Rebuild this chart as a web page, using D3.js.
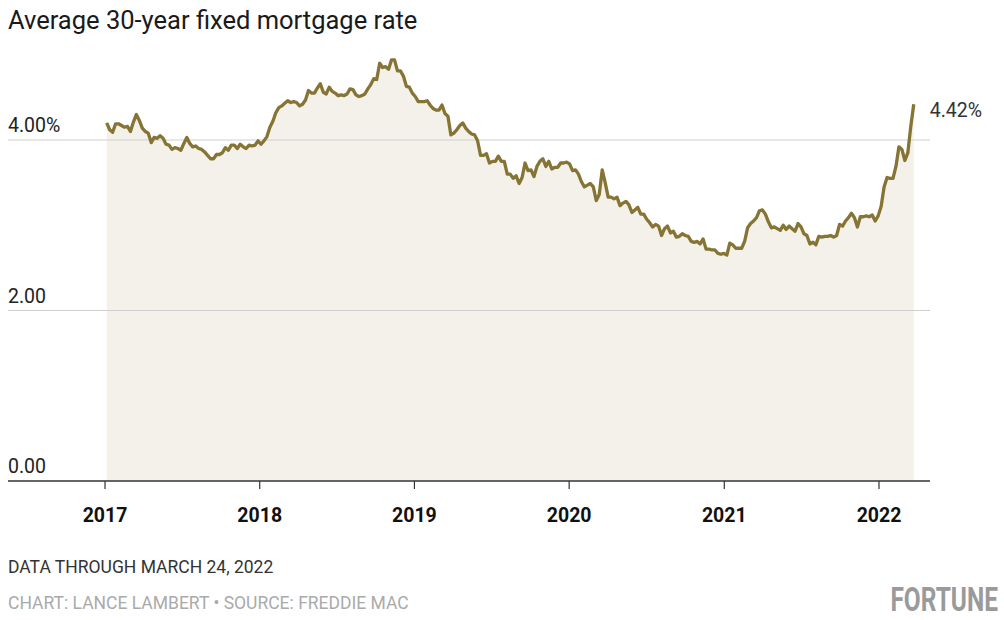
<!DOCTYPE html>
<html>
<head>
<meta charset="utf-8">
<title>Average 30-year fixed mortgage rate</title>
<script src="https://d3js.org/d3.v7.min.js"></script>
<style>
  body { margin: 0; background: #fff; }
  svg { display: block; font-family: Roboto, "Liberation Sans", sans-serif; }
</style>
</head>
<body>
<script>
// weekly Freddie Mac PMMS readings, first week of each year listed first
const startDate = "2017-01-05";
const rates2017 = [4.20,4.12,4.09,4.19, 4.19,4.17,4.15,4.16, 4.10,4.21,4.30,4.23,4.14, 4.10,4.08,3.97,4.03,
  4.02,4.05,4.02,3.95, 3.94,3.89,3.91,3.90,3.88, 3.96,4.03,3.96,3.92, 3.93,3.90,3.89,3.86,3.82,
  3.78,3.78,3.83,3.83, 3.85,3.91,3.88,3.94, 3.94,3.90,3.95,3.92,3.90, 3.94,3.93,3.94,3.99];
const rates2018 = [3.95,3.99,4.04,4.15, 4.22,4.32,4.38,4.40, 4.43,4.46,4.44,4.45,4.44, 4.40,4.42,4.47,4.58,
  4.55,4.55,4.61,4.66,4.56, 4.54,4.62,4.57,4.55, 4.52,4.53,4.52,4.54, 4.60,4.59,4.53,4.51,4.52,
  4.54,4.60,4.65,4.72, 4.71,4.90,4.85,4.86, 4.83,4.94,4.94,4.81,4.81, 4.75,4.63,4.62,4.55];
const rates2019 = [4.51,4.45,4.45,4.45,4.46, 4.41,4.37,4.35,4.35, 4.41,4.31,4.28,4.06, 4.08,4.12,4.17,4.20,
  4.14,4.10,4.07,4.06,3.99, 3.82,3.82,3.84,3.73, 3.75,3.75,3.81,3.75, 3.75,3.60,3.60,3.55,3.58,
  3.49,3.56,3.73,3.64, 3.65,3.57,3.69,3.75,3.78, 3.69,3.75,3.66,3.68, 3.68,3.73,3.73,3.74];
const rates2020 = [3.72,3.64,3.65,3.60,3.51, 3.45,3.47,3.49,3.45, 3.29,3.36,3.65,3.50, 3.33,3.33,3.31,3.33,3.23,
  3.26,3.28,3.24,3.15, 3.18,3.21,3.13,3.13, 3.07,3.03,2.98,3.01,2.99, 2.88,2.96,2.99,2.91,
  2.93,2.86,2.87,2.90, 2.88,2.87,2.81,2.80,2.81, 2.78,2.84,2.72,2.72, 2.71,2.71,2.67,2.66,2.67];
const rates2021 = [2.65,2.79,2.77,2.73, 2.73,2.73,2.81,2.97, 3.02,3.05,3.09,3.17, 3.18,3.13,3.04,2.97,2.98,
  2.96,2.94,3.00,2.95, 2.99,2.96,2.93,3.02, 2.98,2.90,2.88,2.78,2.80, 2.77,2.87,2.86,2.87,
  2.87,2.88,2.86,2.88,3.01, 2.99,3.05,3.09,3.14, 3.09,2.98,3.10,3.10, 3.11,3.10,3.12,3.05,3.11];
const rates2022 = [3.22,3.45,3.56,3.55, 3.55,3.69,3.92,3.89, 3.76,3.85,4.16,4.42];

const yearTicks = [2017, 2018, 2019, 2020, 2021, 2022];
const yTicks = [0, 2, 4];
const yTickLabels = ["0.00", "2.00", "4.00%"];
const lastLabel = "4.42%";

const W = 1004, H = 620;
const rates = [].concat(rates2017, rates2018, rates2019, rates2020, rates2021, rates2022);
const t0 = d3.timeParse("%Y-%m-%d")(startDate);
const data = rates.map((v, i) => ({ date: d3.timeWeek.offset(t0, i), value: v }));

const x = d3.scaleTime()
  .domain([new Date(2017, 0, 1), new Date(2022, 0, 1)])
  .range([105, 879]);
const y = d3.scaleLinear().domain([0, 4]).range([481, 140]);

const svg = d3.select("body").append("svg").attr("width", W).attr("height", H);

svg.append("text").attr("x", 8).attr("y", 29)
  .attr("font-size", 25.5).attr("fill", "#1a1a1a")
  .text("Average 30-year fixed mortgage rate");

// area under the line
svg.append("path").datum(data)
  .attr("fill", "#f4f1eb")
  .attr("d", d3.area().x(d => x(d.date)).y0(y(0)).y1(d => y(d.value)));

// gridlines
svg.append("g").selectAll("line")
  .data(yTicks.filter(d => d > 0)).join("line")
  .attr("x1", 8).attr("x2", 930)
  .attr("y1", d => y(d)).attr("y2", d => y(d))
  .attr("stroke", "#cfcfcf").attr("stroke-width", 1);

svg.append("g").selectAll("text")
  .data(yTicks).join("text")
  .attr("x", 8).attr("y", d => y(d) - 8)
  .attr("font-size", 19.5).attr("fill", "#222")
  .text((d, i) => yTickLabels[i]);

// x axis
const xAxis = svg.append("g").attr("transform", `translate(0,${y(0)})`);
xAxis.append("line").attr("x1", 8).attr("x2", 930)
  .attr("stroke", "#333").attr("stroke-width", 1.5);
xAxis.selectAll(".tick").data(yearTicks).join("g")
  .attr("class", "tick")
  .attr("transform", d => `translate(${x(new Date(d, 0, 1))},0)`)
  .call(g => g.append("line").attr("y2", 8).attr("stroke", "#333").attr("stroke-width", 1.2))
  .call(g => g.append("text").attr("y", 41).attr("text-anchor", "middle")
    .attr("font-size", 19.5).attr("font-weight", "bold").attr("fill", "#111")
    .text(d => d));

svg.append("path").datum(data)
  .attr("fill", "none").attr("stroke", "#857433").attr("stroke-width", 3.3)
  .attr("stroke-linejoin", "round")
  .attr("d", d3.line().x(d => x(d.date)).y(d => y(d.value)));

const last = data[data.length - 1];
svg.append("text").attr("x", x(last.date) + 16).attr("y", y(last.value) + 13)
  .attr("font-size", 19.5).attr("fill", "#333").text(lastLabel);

// footer
svg.append("text").attr("x", 8).attr("y", 573)
  .attr("font-size", 17.5).attr("fill", "#333")
  .text("DATA THROUGH MARCH 24, 2022");
svg.append("text").attr("x", 8).attr("y", 609)
  .attr("font-size", 17.5).attr("fill", "#aaa")
  .text("CHART: LANCE LAMBERT \u2022 SOURCE: FREDDIE MAC");
svg.append("text")
  .attr("transform", "translate(998,611) scale(0.72,1)")
  .attr("text-anchor", "end").attr("font-size", 34).attr("font-weight", "bold")
  .attr("fill", "#9a9a9a").text("FORTUNE");
</script>
</body>
</html>
